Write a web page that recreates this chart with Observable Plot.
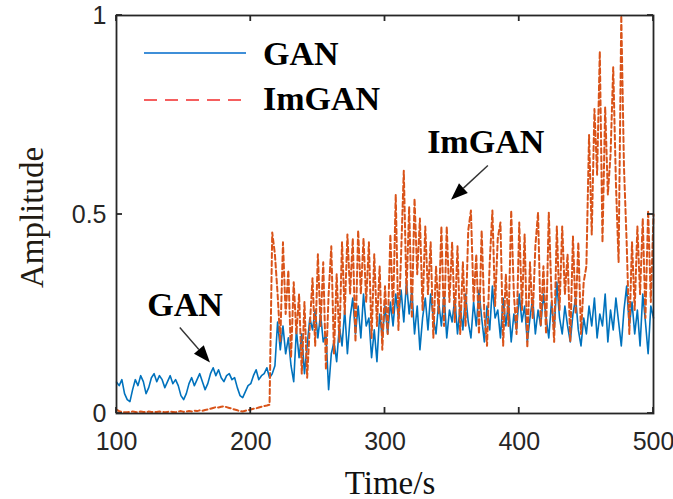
<!DOCTYPE html>
<html><head><meta charset="utf-8">
<script src="https://cdn.jsdelivr.net/npm/d3@7"></script>
<script src="https://cdn.jsdelivr.net/npm/@observablehq/plot@0.6"></script>
<style>body{margin:0;background:#fff}#chart svg{display:block}</style>
</head><body><div id="chart"></div>
<script>
// ---- data ----
const time = d3.range(100, 501, 2); // seconds, 201 samples
const gan = [
  /*100*/0.079,0.070,0.085,0.050,0.035,0.030,0.060,0.085,0.070,0.095,
  /*120*/0.080,0.050,0.065,0.090,0.100,0.080,0.095,0.085,0.065,0.080,
  /*140*/0.095,0.075,0.085,0.070,0.045,0.035,0.050,0.075,0.090,0.070,
  /*160*/0.085,0.100,0.080,0.060,0.075,0.100,0.115,0.095,0.110,0.090,
  /*180*/0.080,0.095,0.100,0.085,0.090,0.065,0.045,0.040,0.055,0.070,
  /*200*/0.075,0.095,0.110,0.085,0.095,0.100,0.115,0.090,0.100,0.120,
  /*220*/0.23,0.16,0.22,0.15,0.19,0.12,0.08,0.21,0.14,0.20,
  /*240*/0.10,0.17,0.24,0.21,0.26,0.19,0.25,0.18,0.20,0.06,
  /*260*/0.15,0.18,0.13,0.22,0.17,0.26,0.15,0.24,0.29,0.20,
  /*280*/0.27,0.19,0.30,0.22,0.24,0.14,0.21,0.13,0.25,0.19,
  /*300*/0.27,0.20,0.28,0.22,0.30,0.24,0.31,0.23,0.33,0.25,
  /*320*/0.31,0.20,0.27,0.16,0.24,0.29,0.21,0.30,0.24,0.20,
  /*340*/0.28,0.22,0.30,0.19,0.26,0.23,0.29,0.20,0.27,0.21,
  /*360*/0.30,0.23,0.19,0.28,0.22,0.31,0.24,0.18,0.27,0.21,
  /*380*/0.32,0.24,0.26,0.19,0.29,0.22,0.28,0.18,0.25,0.21,
  /*400*/0.30,0.23,0.27,0.18,0.24,0.29,0.20,0.26,0.22,0.30,
  /*420*/0.24,0.19,0.28,0.21,0.33,0.24,0.20,0.27,0.22,0.18,
  /*440*/0.25,0.29,0.21,0.17,0.24,0.20,0.27,0.22,0.29,0.19,
  /*460*/0.25,0.22,0.30,0.18,0.26,0.21,0.29,0.23,0.17,0.26,
  /*480*/0.32,0.22,0.28,0.20,0.26,0.17,0.30,0.23,0.15,0.27,
  /*500*/0.24
];
const imgan = [
  /*100*/0.010,0.006,0.004,0.003,0.003,0.004,0.005,0.004,0.003,0.005,
  /*120*/0.004,0.003,0.005,0.004,0.003,0.004,0.005,0.004,0.003,0.004,
  /*140*/0.005,0.004,0.003,0.005,0.006,0.004,0.005,0.006,0.005,0.007,
  /*160*/0.006,0.008,0.007,0.009,0.010,0.012,0.014,0.016,0.015,0.017,
  /*180*/0.018,0.016,0.014,0.012,0.010,0.008,0.006,0.005,0.007,0.008,
  /*200*/0.010,0.012,0.013,0.015,0.017,0.019,0.020,0.022,0.455,0.400,
  /*220*/0.30,0.18,0.43,0.25,0.36,0.14,0.33,0.20,0.30,0.10,
  /*240*/0.28,0.09,0.22,0.34,0.17,0.40,0.22,0.38,0.11,0.30,
  /*260*/0.42,0.15,0.35,0.18,0.43,0.25,0.45,0.30,0.44,0.18,
  /*280*/0.46,0.30,0.44,0.28,0.43,0.19,0.40,0.22,0.37,0.16,
  /*300*/0.32,0.20,0.45,0.25,0.55,0.21,0.40,0.61,0.30,0.52,
  /*320*/0.24,0.54,0.35,0.49,0.26,0.47,0.30,0.43,0.19,0.37,
  /*340*/0.25,0.47,0.22,0.47,0.28,0.43,0.23,0.42,0.20,0.38,
  /*360*/0.22,0.46,0.51,0.28,0.40,0.20,0.46,0.25,0.17,0.38,
  /*380*/0.51,0.27,0.44,0.48,0.17,0.35,0.22,0.51,0.30,0.20,
  /*400*/0.48,0.26,0.45,0.165,0.38,0.24,0.42,0.505,0.22,0.37,
  /*420*/0.20,0.505,0.30,0.18,0.47,0.26,0.47,0.30,0.40,0.18,
  /*440*/0.445,0.25,0.43,0.20,0.33,0.37,0.70,0.45,0.765,0.60,
  /*460*/0.91,0.43,0.77,0.55,0.65,0.87,0.58,0.38,1.00,0.62,
  /*480*/0.43,0.20,0.43,0.26,0.47,0.30,0.49,0.24,0.51,0.28,
  /*500*/0.50
];
const xTicks = [100, 200, 300, 400, 500];
const yTicks = [0, 0.5, 1];
const yTickLabels = ["0", "0.5", "1"];
const seriesNames = ["GAN", "ImGAN"];
const seriesColors = ["#0072BD", "#D95319"];
const legendColors = ["#3f8fd8", "#f22a2a"];
const xLabel = "Time/s";
const yLabel = "Amplitude";
const annotations = [
  {label: "GAN", x: 151, y: 0.245, x1: 147.5, y1: 0.215, x2: 170, y2: 0.127},
  {label: "ImGAN", x: 375, y: 0.655, x1: 377, y1: 0.622, x2: 349.5, y2: 0.536}
];

const rows = time.map((t, i) => ({t, gan: gan[i], imgan: imgan[i]}));
const serif = "'Liberation Serif','Times New Roman',serif";
const sans = "'Liberation Sans',Arial,sans-serif";
const ink = "#262626";

// inward ticks on all four sides
function innerTicks(index, scales, values, dim) {
  const g = d3.create("svg:g").attr("stroke", ink).attr("stroke-width", 1.8);
  const L = 6;
  const top = dim.marginTop, bottom = dim.height - dim.marginBottom;
  const left = dim.marginLeft, right = dim.width - dim.marginRight;
  for (const t of xTicks) {
    const x = scales.x(t);
    g.append("line").attr("x1", x).attr("x2", x).attr("y1", bottom).attr("y2", bottom - L);
    g.append("line").attr("x1", x).attr("x2", x).attr("y1", top).attr("y2", top + L);
  }
  for (const v of yTicks) {
    const y = scales.y(v);
    g.append("line").attr("x1", left).attr("x2", left + L).attr("y1", y).attr("y2", y);
    g.append("line").attr("x1", right).attr("x2", right - L).attr("y1", y).attr("y2", y);
  }
  return g.node();
}

// annotation arrows with filled heads
function arrows(index, scales, values, dim) {
  const g = d3.create("svg:g");
  for (const a of annotations) {
    const x1 = scales.x(a.x1), y1 = scales.y(a.y1), x2 = scales.x(a.x2), y2 = scales.y(a.y2);
    const dx = x2 - x1, dy = y2 - y1, len = Math.hypot(dx, dy);
    const ux = dx / len, uy = dy / len, hl = 17, hw = 6.5;
    const bx = x2 - ux * hl, by = y2 - uy * hl;
    g.append("line").attr("x1", x1).attr("y1", y1).attr("x2", bx).attr("y2", by)
      .attr("stroke", "#333").attr("stroke-width", 1.4);
    g.append("path")
      .attr("d", `M${x2},${y2}L${bx - uy * hw},${by + ux * hw}L${bx + uy * hw},${by - ux * hw}Z`)
      .attr("fill", "#000");
  }
  return g.node();
}

// legend (top-left inside the axes)
function legend(index, scales, values, dim) {
  const g = d3.create("svg:g").attr("text-anchor", "start");
  const x0 = dim.marginLeft + 28, len = 102, tx = dim.marginLeft + 147;
  const lineY = [dim.marginTop + 38, dim.marginTop + 85];
  const textY = [dim.marginTop + 50, dim.marginTop + 95];
  seriesNames.forEach((name, i) => {
    const l = g.append("line").attr("x1", x0).attr("x2", x0 + len)
      .attr("y1", lineY[i]).attr("y2", lineY[i])
      .attr("stroke", legendColors[i]).attr("stroke-width", i ? 1.5 : 2);
    if (i) l.attr("stroke-dasharray", "13,8");
    g.append("text").attr("x", tx).attr("y", textY[i]).text(name)
      .attr("text-anchor", "start")
      .attr("font-family", serif).attr("font-weight", "bold").attr("font-size", 34).attr("fill", "#000");
  });
  return g.node();
}

const chart = Plot.plot({
  width: 673,
  height: 499,
  marginTop: 15,
  marginRight: 20,
  marginBottom: 86,
  marginLeft: 116,
  x: {domain: [100, 500]},
  y: {domain: [0, 1]},
  marks: [
    Plot.line(rows, {x: "t", y: "gan", stroke: seriesColors[0], strokeWidth: 1.6}),
    Plot.line(rows, {x: "t", y: "imgan", stroke: seriesColors[1], strokeWidth: 2, strokeDasharray: "5,3"}),
    Plot.frame({stroke: ink, strokeWidth: 1.8}),
    innerTicks,
    Plot.axisX({ticks: xTicks, tickSize: 0, tickPadding: 19, fontSize: 25, fontFamily: sans, fill: ink, label: null, tickFormat: d => String(d)}),
    Plot.axisY({ticks: yTicks, tickSize: 0, tickPadding: 10, fontSize: 25, fontFamily: sans, fill: ink, label: null, tickFormat: d => yTickLabels[yTicks.indexOf(d)]}),
    Plot.text([xLabel], {frameAnchor: "bottom", text: d => d, dy: 80, dx: 5, lineAnchor: "bottom", fontSize: 33, fontFamily: serif, fill: "#111"}),
    Plot.text([yLabel], {frameAnchor: "left", text: d => d, dx: -74, dy: 3, rotate: -90, lineAnchor: "bottom", textAnchor: "middle", fontSize: 33, fontFamily: serif, fill: "#221a12"}),
    Plot.text(annotations, {x: "x", y: "y", text: "label", lineAnchor: "bottom", textAnchor: "middle", fontSize: 34, fontWeight: "bold", fontFamily: serif, fill: "#000"}),
    arrows,
    legend
  ]
});
document.getElementById("chart").append(chart);
</script>
</body></html>
